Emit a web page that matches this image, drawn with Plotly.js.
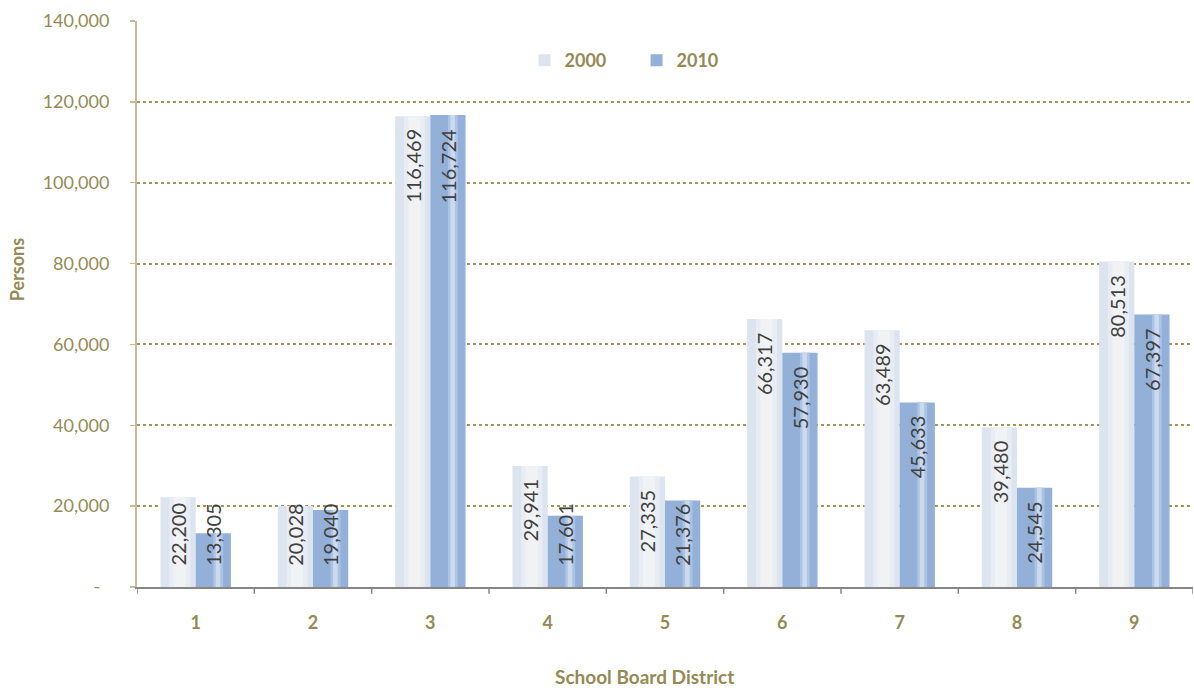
<!DOCTYPE html>
<html>
<head>
<meta charset="utf-8">
<script src="https://cdn.plot.ly/plotly-3.0.1.min.js"></script>
<style>html,body{margin:0;padding:0;background:#fff;}#chart{width:1194px;height:688px;}</style>
</head>
<body>
<div id="chart"></div>
<script>
const districts = ['1','2','3','4','5','6','7','8','9'];
const pop2000 = [22200, 20028, 116469, 29941, 27335, 66317, 63489, 39480, 80513];
const pop2010 = [13305, 19040, 116724, 17601, 21376, 57930, 45633, 24545, 67397];
const seriesNames = ['2000', '2010'];
const yTickVals = [0, 20000, 40000, 60000, 80000, 100000, 120000, 140000];
const yTickText = ['-  ', '20,000', '40,000', '60,000', '80,000', '100,000', '120,000', '140,000'];
const xTitle = 'School Board District';
const yTitle = 'Persons';

const olive = '#948A54';
const W = 0.30;
const idx = districts.map((d, i) => i);

const traces = [
  {type:'bar', x: idx, y: pop2000, name: seriesNames[0], offset: -W, width: W,
   marker:{color:'#dce4ef', line:{width:0}}, hoverinfo:'y'},
  {type:'bar', x: idx, y: pop2000, showlegend:false, offset: -W*0.75, width: W*0.6,
   marker:{color:'#e8ecf3', line:{width:0}}, hoverinfo:'skip'},
  {type:'bar', x: idx, y: pop2000, showlegend:false, offset: -W*0.62, width: W*0.34,
   marker:{color:'#f1f2f4', line:{width:0}}, hoverinfo:'skip'},
  {type:'bar', x: idx, y: pop2010, name: seriesNames[1], offset: 0, width: W,
   marker:{color:'#93b1d8', line:{width:0}}, hoverinfo:'y'},
  {type:'bar', x: idx, y: pop2010, showlegend:false, offset: W*0.5, width: W*0.28,
   marker:{color:'#acc3e2', line:{width:0}}, hoverinfo:'skip'},
  {type:'bar', x: idx, y: pop2010, showlegend:false, offset: W*0.57, width: W*0.13,
   marker:{color:'#cbdaee', line:{width:0}}, hoverinfo:'skip'}
];

const labelFloor = 24000;
const annotations = [];
[pop2000, pop2010].forEach((vals, s) => {
  vals.forEach((v, i) => {
    annotations.push({
      x: i + (s === 0 ? -W/2 : W/2), y: Math.max(v, labelFloor),
      xref:'x', yref:'y', text: v.toLocaleString('en-US'),
      showarrow:false, textangle:-90, yanchor:'top', xanchor:'center', yshift:-11,
      font:{family:'Lato, sans-serif', size:20, color:'#404040'}
    });
  });
});
annotations.push({
  xref:'paper', yref:'paper', x: (17 - 137) / 1057, y: 0.56, text: yTitle,
  showarrow:false, textangle:-90, xanchor:'center', yanchor:'middle',
  font:{family:'Lato, sans-serif', size:18, color: olive, weight:'bold'}
});
annotations.push({
  xref:'paper', yref:'paper', x: 0.4806, y: -0.159, text: xTitle,
  showarrow:false, xanchor:'center', yanchor:'middle',
  font:{family:'Lato, sans-serif', size:19, color: olive, weight:'bold'}
});

const layout = {
  width:1194, height:688,
  margin:{l:137, r:1, t:21, b:101},
  paper_bgcolor:'#ffffff', plot_bgcolor:'#ffffff',
  barmode:'overlay',
  font:{family:'Lato, sans-serif', color: olive, size:18},
  showlegend:true,
  legend:{orientation:'h', x:0.367, y:0.93, xanchor:'left', yanchor:'middle',
    font:{family:'Lato, sans-serif', size:18, color: olive, weight:'bold'},
    itemwidth:30, entrywidth:67, entrywidthmode:'pixels', bgcolor:'rgba(0,0,0,0)'},
  xaxis:{
    type:'linear', range:[-0.5, 8.5],
    tickvals: idx, ticktext: districts,
    showgrid:false, zeroline:false,
    showline:true, linecolor:'#868686', linewidth:2,
    ticks:'',
    tickfont:{family:'Lato, sans-serif', size:18, color: olive, weight:'bold'},
    ticklabelstandoff: 18
  },
  yaxis:{
    range:[0, 140000], tickvals: yTickVals, ticktext: yTickText,
    showgrid:true, gridcolor:'#a09658', griddash:'dot', gridwidth:2,
    zeroline:false, showline:true, linecolor:'#c4bd97', linewidth:2,
    ticks:'outside', ticklen:5, tickcolor:'#c4bd97', tickwidth:1.5,
    ticklabelstandoff: 17,
    tickfont:{family:'Lato, sans-serif', size:18, color: olive}
  },
  shapes: idx.concat([idx.length]).map(i => ({
    type:'line', xref:'x', yref:'paper', x0: i - 0.5, x1: i - 0.5, y0: 0, y1: -0.012,
    line:{color:'#868686', width:1.5}
  })),
  annotations: annotations
};

Plotly.newPlot('chart', traces, layout, {displayModeBar:false, staticPlot:true});
</script>
</body>
</html>
